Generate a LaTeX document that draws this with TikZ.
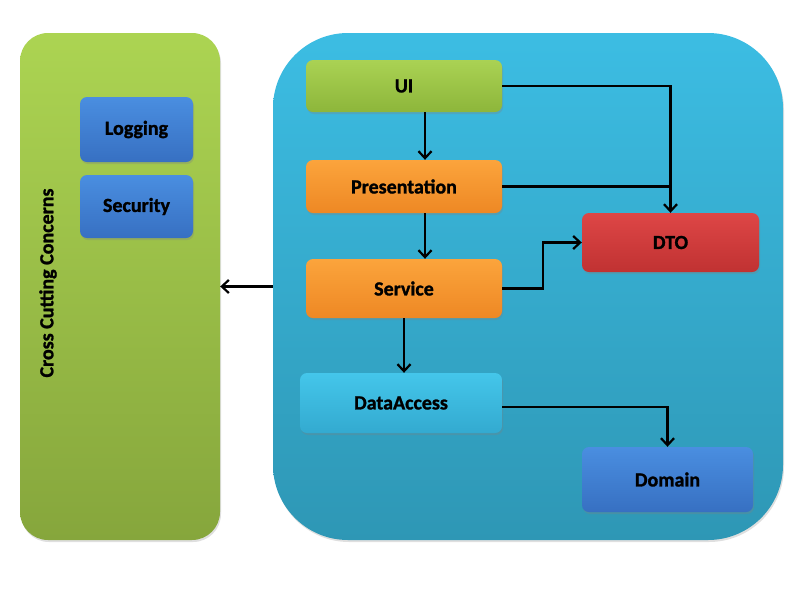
\documentclass[tikz,border=0pt]{standalone}
\usepackage{fontspec}
\setmainfont{Carlito}[BoldFeatures={FakeBold=1.3}]
\usetikzlibrary{arrows.meta,shadows}
\definecolor{gpTop}{HTML}{ACD452}
\definecolor{gpBot}{HTML}{86A63C}
\definecolor{bpTop}{HTML}{3CBDE3}
\definecolor{bpBot}{HTML}{2E97B5}
\definecolor{uiTop}{HTML}{AAD254}
\definecolor{uiBot}{HTML}{8DB63A}
\definecolor{orTop}{HTML}{FBA43C}
\definecolor{orBot}{HTML}{EE8824}
\definecolor{rdTop}{HTML}{DE4646}
\definecolor{rdBot}{HTML}{C03232}
\definecolor{cyTop}{HTML}{44C6EA}
\definecolor{cyBot}{HTML}{33AAD0}
\definecolor{blTop}{HTML}{4A8EE0}
\definecolor{blBot}{HTML}{3770C2}
\tikzset{
  panel/.style={rounded corners=#1, inner sep=0pt, draw=none,
    drop shadow={shadow xshift=1pt, shadow yshift=-2pt, opacity=0.25}},
  box/.style={rounded corners=7pt, inner sep=0pt, draw=none,
    font=\bfseries\fontsize{20}{22}\selectfont, text=black,
    drop shadow={shadow xshift=1pt, shadow yshift=-2pt, opacity=0.3}},
  shade2/.style n args={2}{top color=#1, bottom color=#2},
  arr/.style={line width=2.4pt, -{Straight Barb[length=7pt,width=13pt,line width=2.2pt]}},
  ln/.style={line width=2.4pt}
}
\begin{document}
\begin{tikzpicture}[x=1pt,y=-1pt]
\useasboundingbox (0,0) rectangle (800,600);
% panels
\node[panel=28pt, shade2={gpTop}{gpBot}, minimum width=200pt, minimum height=507pt] (cc) at (120,286.5) {};
\node[panel=75pt, shade2={bpTop}{bpBot}, minimum width=510pt, minimum height=507pt] (core) at (528,286.5) {};
\node[rotate=90, font=\bfseries\fontsize{20}{22}\selectfont] (cctext) at (48,283) {Cross Cutting Concerns};
% cross-cutting boxes
\node[box, shade2={blTop}{blBot}, minimum width=113pt, minimum height=65pt] (log) at (136.5,129.5) {Logging};
\node[box, shade2={blTop}{blBot}, minimum width=113pt, minimum height=63pt] (sec) at (136.5,206.5) {Security};
% layers
\node[box, shade2={uiTop}{uiBot}, minimum width=196pt, minimum height=52pt] (ui) at (404,86) {UI};
\node[box, shade2={orTop}{orBot}, minimum width=196pt, minimum height=53pt] (pres) at (404,186.5) {Presentation};
\node[box, shade2={orTop}{orBot}, minimum width=196pt, minimum height=59pt] (svc) at (404,288.5) {Service};
\node[box, shade2={rdTop}{rdBot}, minimum width=177pt, minimum height=59pt] (dto) at (670.5,242.5) {DTO};
\node[box, shade2={cyTop}{cyBot}, minimum width=202pt, minimum height=60pt] (da) at (401,403) {DataAccess};
\node[box, shade2={blTop}{blBot}, minimum width=171pt, minimum height=65pt] (dom) at (667.5,479.5) {Domain};
% connectors
\draw[arr] ([xshift=21pt]ui.south) -- ([xshift=21pt]pres.north);
\draw[arr] ([xshift=21pt]pres.south) -- ([xshift=21pt]svc.north);
\draw[arr] (ui.east) -| (dto.north);
\draw[ln] (pres.east) -- (pres.east -| dto.north);
\draw[arr] (svc.east) -- ++(41,0) |- (dto.west);
\draw[arr] (svc.south) -- (svc.south |- da.north);
\draw[arr] ([yshift=-4pt]da.east) -| (dom.north);
\draw[arr] (core.west) -- (core.west -| cc.east);
\end{tikzpicture}
\end{document}
